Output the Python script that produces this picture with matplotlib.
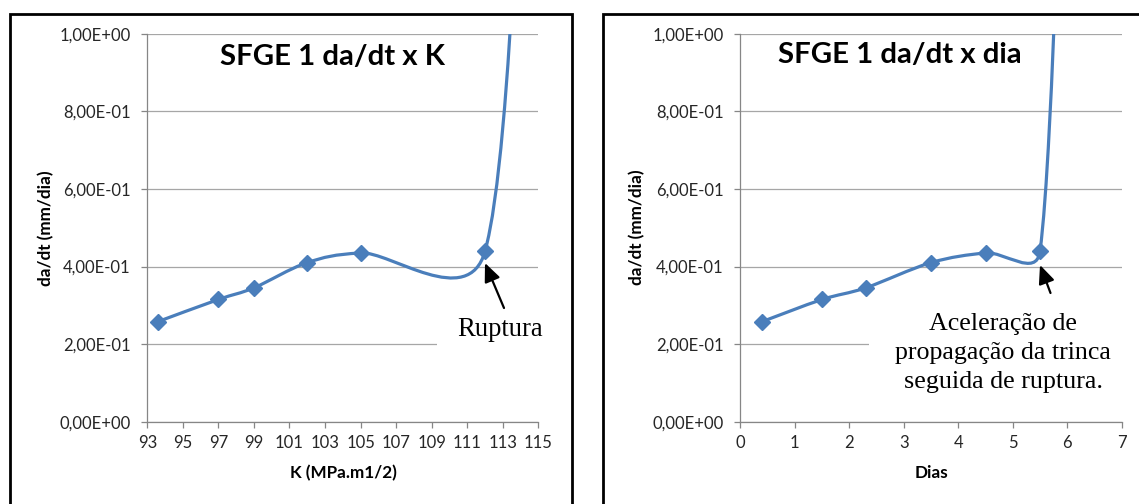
import numpy as np
import matplotlib
matplotlib.use("Agg")
import matplotlib.pyplot as plt
from matplotlib.path import Path
from matplotlib.patches import PathPatch, Rectangle, FancyArrowPatch
from matplotlib.ticker import FuncFormatter

# Crack growth rate for specimen SFGE 1; the last sample (rupture) lies off scale
K_values = [93.6, 97.0, 99.0, 102.0, 105.0, 112.0, 114.5]
day_values = [0.4, 1.5, 2.3, 3.5, 4.5, 5.5, 6.0]
rate_values = [0.258, 0.315, 0.345, 0.410, 0.435, 0.439, 2.0]

y_ticks = [0.0, 0.2, 0.4, 0.6, 0.8, 1.0]
K_ticks = list(range(93, 116, 2))
day_ticks = list(range(0, 8))

BLUE = "#4A7EBB"
GRID = "#a6a6a6"
AXIS = "#868686"
SANS = "Lato"
SERIF = "Liberation Serif"

W, H = 1139, 504
fig = plt.figure(figsize=(W / 100, H / 100), dpi=100)


def fx(px):
    return px / W


def fy(py):
    return 1 - py / H


def smooth_path(ax, xs, ys):
    """Bezier path through the points, built like a spreadsheet 'smoothed line'."""
    pts = ax.transData.transform(np.column_stack([xs, ys]))
    n = len(pts)
    verts = [pts[0]]
    codes = [Path.MOVETO]
    for i in range(n - 1):
        p0 = pts[max(i - 1, 0)]
        p1 = pts[i]
        p2 = pts[i + 1]
        p3 = pts[min(i + 2, n - 1)]
        half = np.hypot(*(p2 - p1)) / 2
        a = (p2 - p0) / 6.0
        b = (p3 - p1) / 6.0
        la, lb = np.hypot(*a), np.hypot(*b)
        if la > half:
            a = a * half / la
        if lb > half:
            b = b * half / lb
        verts += [p1 + a, p2 - b, p2]
        codes += [Path.CURVE4] * 3
    data_verts = ax.transData.inverted().transform(np.array(verts))
    return Path(data_verts, codes)


def sci_comma(v, _):
    return f"{v:.2E}".replace(".", ",")


def make_panel(left_px, right_px, xs, xlim, xticks, xlabel, title, title_xy,
               ylabel_xy, xlabel_xy):
    top_px, bottom_px = 33.7, 421.7
    ax = fig.add_axes([fx(left_px), fy(bottom_px),
                       (right_px - left_px) / W, (bottom_px - top_px) / H])
    ax.set_xlim(*xlim)
    ax.set_ylim(0, 1)
    ax.set_xticks(xticks)
    ax.set_yticks(y_ticks)
    ax.yaxis.set_major_formatter(FuncFormatter(sci_comma))
    for s in ("top", "right"):
        ax.spines[s].set_visible(False)
    for s in ("left", "bottom"):
        ax.spines[s].set_color(AXIS)
        ax.spines[s].set_linewidth(0.9)
    ax.tick_params(direction="out", length=4.3, width=0.9, color=AXIS,
                   labelsize=12, labelcolor="#262626")
    ax.tick_params(axis="y", pad=7.6)
    ax.tick_params(axis="x", pad=5.2)
    for lab in ax.get_xticklabels() + ax.get_yticklabels():
        lab.set_fontfamily(SANS)
    ax.grid(axis="y", color=GRID, lw=0.9)
    ax.set_axisbelow(True)

    path = smooth_path(ax, xs, rate_values)
    ax.add_patch(PathPatch(path, facecolor="none", edgecolor=BLUE, lw=2.3,
                           capstyle="round", joinstyle="round", zorder=3))
    ax.plot(xs, rate_values, linestyle="none", marker="D", ms=8,
            color=BLUE, mec=BLUE, zorder=4)

    fig.text(fx(title_xy[0]), fy(title_xy[1]), title, ha="center",
             va="baseline", fontsize=21.2, fontweight="bold", family=SANS)
    fig.text(fx(ylabel_xy[0]), fy(ylabel_xy[1]), "da/dt (mm/dia)",
             rotation=90, ha="center", va="center", fontsize=12.3,
             fontweight="bold", family=SANS)
    fig.text(fx(xlabel_xy[0]), fy(xlabel_xy[1]), xlabel, ha="center",
             va="center", fontsize=12.3, fontweight="bold", family=SANS)
    return ax


axK = make_panel(147.3, 538.3, K_values, (93, 115), K_ticks, "K (MPa.m1/2)",
                 "SFGE 1 da/dt x K", (332, 65), (46, 228), (343, 473))
axD = make_panel(740.4, 1121.7, day_values, (0, 7), day_ticks, "Dias",
                 "SFGE 1 da/dt x dia", (900, 63), (637, 227), (931.5, 473))

# White text boxes sitting over the lower gridline
axK.add_patch(Rectangle((0.741, 0.17), 0.40, 0.12, transform=axK.transAxes,
                        facecolor="white", edgecolor="none", zorder=2.5,
                        clip_on=False))
axD.add_patch(Rectangle((0.337, 0.04), 0.75, 0.26, transform=axD.transAxes,
                        facecolor="white", edgecolor="none", zorder=2.5,
                        clip_on=False))

# Annotations
fig.text(fx(500), fy(336), "Ruptura", ha="center", va="baseline",
         fontsize=19.2, family=SERIF, zorder=5)
note_lines = ["Aceleração de", "propagação da trinca", "seguida de ruptura."]
for k, line in enumerate(note_lines):
    fig.text(fx(1003), fy(330 + 29 * k), line, ha="center", va="baseline",
             fontsize=18.7, family=SERIF, zorder=5)

arrow_kw = dict(arrowstyle="-|>,head_length=0.8,head_width=0.35",
                color="black", lw=1.6, shrinkA=0, shrinkB=0)
fig.add_artist(FancyArrowPatch(
    (fx(504), fy(308)), (fx(485), fy(263)), transform=fig.transFigure,
    mutation_scale=14, **arrow_kw))
fig.add_artist(FancyArrowPatch(
    (fx(1050.5), fy(293)), (fx(1040), fy(265)), transform=fig.transFigure,
    mutation_scale=14, **arrow_kw))

# Panel frames
fig.add_artist(Rectangle((fx(10.3), fy(520)), (572 - 10.3) / W, (520 - 13.8) / H,
                         transform=fig.transFigure, facecolor="none",
                         edgecolor="black", lw=2.0))
fig.add_artist(Rectangle((fx(602.5), fy(520)), (1160 - 602.5) / W, (520 - 13.8) / H,
                         transform=fig.transFigure, facecolor="none",
                         edgecolor="black", lw=2.0))

fig.savefig("out.png", dpi=100)
